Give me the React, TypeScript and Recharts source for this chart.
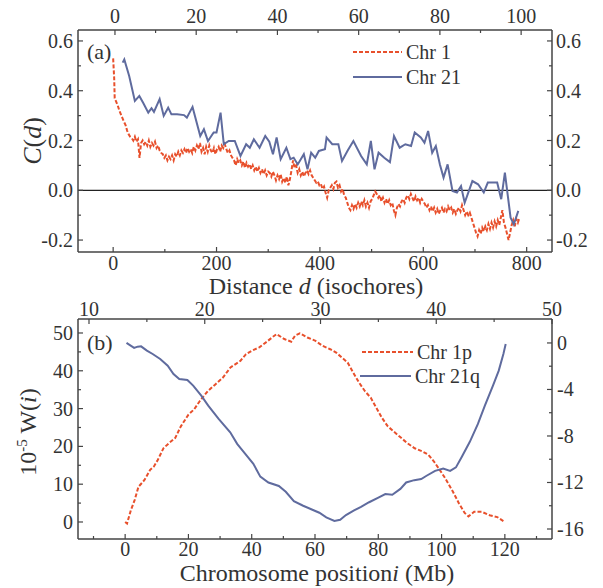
import React from 'react';
import { LineChart, Line, XAxis, YAxis, ReferenceLine } from 'recharts';

// ---------- Panel (a) data ----------
// Chr 1: [distance d (isochores), C(d)]
const chr1CorrPairs: [number, number][] = [
  [0, 0.53], [2, 0.45], [3, 0.37], [6, 0.355], [9, 0.34], [12, 0.32], [15, 0.305], [18, 0.29], [21, 0.275],
  [24, 0.262], [27, 0.24], [30, 0.225], [33, 0.215], [36, 0.21], [39, 0.2], [42, 0.215], [45, 0.195], [48, 0.205],
  [51, 0.13], [54, 0.19], [57, 0.2], [60, 0.185], [63, 0.195], [66, 0.18], [69, 0.2], [72, 0.175], [75, 0.19],
  [78, 0.18], [81, 0.195], [84, 0.17], [87, 0.18], [90, 0.16], [93, 0.15], [96, 0.145], [99, 0.13], [102, 0.14],
  [105, 0.12], [108, 0.135], [111, 0.125], [114, 0.14], [117, 0.12], [120, 0.145], [123, 0.135], [126, 0.155],
  [129, 0.14], [132, 0.16], [135, 0.15], [138, 0.165], [141, 0.15], [144, 0.17], [147, 0.155], [150, 0.165],
  [153, 0.15], [156, 0.175], [159, 0.16], [162, 0.18], [165, 0.165], [168, 0.19], [171, 0.155], [174, 0.17],
  [177, 0.145], [180, 0.175], [183, 0.155], [186, 0.18], [189, 0.16], [192, 0.15], [195, 0.17], [198, 0.145],
  [201, 0.165], [204, 0.175], [207, 0.155], [210, 0.18], [213, 0.17], [216, 0.185], [219, 0.165], [222, 0.15],
  [225, 0.16], [228, 0.14], [231, 0.13], [234, 0.12], [237, 0.1], [240, 0.125], [243, 0.11], [246, 0.12],
  [249, 0.1], [252, 0.115], [255, 0.09], [258, 0.11], [261, 0.095], [264, 0.105], [267, 0.085], [270, 0.1],
  [273, 0.08], [276, 0.095], [279, 0.075], [282, 0.09], [285, 0.07], [288, 0.085], [291, 0.065], [294, 0.08],
  [297, 0.06], [300, 0.075], [303, 0.07], [306, 0.055], [309, 0.075], [312, 0.06], [315, 0.04], [318, 0.06],
  [321, 0.045], [324, 0.065], [327, 0.035], [330, 0.05], [333, 0.03], [336, 0.055], [339, 0.02], [342, 0.045],
  [345, 0.08], [348, 0.12], [351, 0.09], [354, 0.1], [357, 0.07], [360, 0.085], [363, 0.06], [366, 0.075],
  [369, 0.055], [372, 0.07], [375, 0.08], [378, 0.065], [381, 0.08], [384, 0.06], [387, 0.05], [390, 0.04],
  [393, 0.03], [396, 0.035], [399, 0.02], [402, 0.025], [405, 0.005], [408, 0.015], [411, -0.01], [414, -0.03],
  [417, 0.0], [420, 0.01], [423, 0.02], [426, 0.005], [429, 0.03], [432, 0.035], [435, 0.01], [438, 0.02],
  [441, -0.005], [444, 0.005], [447, -0.02], [450, -0.03], [453, -0.05], [456, -0.07], [459, -0.08], [462, -0.06],
  [465, -0.075], [468, -0.055], [471, -0.07], [474, -0.05], [477, -0.065], [480, -0.045], [483, -0.06], [486, -0.04],
  [489, -0.065], [492, -0.05], [495, -0.07], [498, -0.045], [501, -0.035], [504, -0.02], [507, -0.005], [510, -0.015],
  [513, -0.03], [516, -0.02], [519, -0.045], [522, -0.03], [525, -0.05], [528, -0.035], [531, -0.055], [534, -0.04],
  [537, -0.06], [540, -0.05], [543, -0.08], [546, -0.1], [549, -0.07], [552, -0.055], [555, -0.065], [558, -0.045],
  [561, -0.035], [564, -0.05], [567, -0.03], [570, -0.02], [573, -0.035], [576, -0.015], [579, -0.03], [582, -0.045],
  [585, -0.025], [588, -0.04], [591, -0.03], [594, -0.05], [597, -0.035], [600, -0.045], [603, -0.055], [606, -0.07],
  [609, -0.06], [612, -0.08], [615, -0.065], [618, -0.085], [621, -0.07], [624, -0.09], [627, -0.075], [630, -0.095],
  [633, -0.08], [636, -0.07], [639, -0.09], [642, -0.075], [645, -0.085], [648, -0.065], [651, -0.08], [654, -0.07],
  [657, -0.09], [660, -0.075], [663, -0.095], [666, -0.08], [669, -0.07], [672, -0.085], [675, -0.06], [678, -0.08],
  [681, -0.1], [684, -0.085], [687, -0.1], [690, -0.09], [693, -0.11], [696, -0.13], [699, -0.15], [702, -0.17],
  [705, -0.185], [708, -0.16], [711, -0.175], [714, -0.15], [717, -0.165], [720, -0.145], [723, -0.16], [726, -0.135],
  [729, -0.155], [732, -0.13], [735, -0.15], [738, -0.125], [741, -0.145], [744, -0.12], [747, -0.14], [750, -0.11],
  [753, -0.08], [756, -0.13], [759, -0.15], [762, -0.175], [765, -0.2], [768, -0.17], [771, -0.14], [774, -0.12],
  [777, -0.145], [780, -0.115], [783, -0.13], [786, -0.11],
];

// Chr 21: [distance on top axis, C(d)]
const chr21CorrPairs: [number, number][] = [
  [1.9, 0.513], [2.3, 0.526], [3.5, 0.459], [4.9, 0.359], [6.0, 0.379], [7.0, 0.35], [8.2, 0.312], [9.0, 0.33],
  [9.6, 0.315], [11.0, 0.366], [12.0, 0.299], [13.1, 0.332], [13.9, 0.305], [15.3, 0.305], [17.0, 0.302],
  [17.7, 0.292], [19.1, 0.335], [21.0, 0.218], [21.9, 0.245], [22.9, 0.198], [24.3, 0.232], [25.0, 0.232],
  [26.0, 0.312], [26.8, 0.185], [28.0, 0.198], [29.5, 0.198], [30.9, 0.138], [32.3, 0.185], [33.2, 0.171],
  [34.2, 0.205], [35.6, 0.171], [37.0, 0.218], [38.0, 0.195], [38.9, 0.145], [39.8, 0.212], [40.8, 0.125],
  [42.2, 0.171], [43.2, 0.125], [44.0, 0.131], [45.0, 0.104], [46.5, 0.145], [47.4, 0.084], [48.3, 0.151],
  [49.3, 0.131], [50.2, 0.158], [51.7, 0.165], [52.1, 0.212], [53.5, 0.185], [55.0, 0.185], [55.9, 0.118],
  [57.3, 0.16], [58.7, 0.198], [60.6, 0.138], [62.0, 0.104], [63.0, 0.198], [63.9, 0.084], [64.9, 0.151],
  [66.3, 0.131], [67.7, 0.113], [68.7, 0.218], [70.1, 0.171], [71.5, 0.185], [72.9, 0.178], [73.8, 0.232],
  [75.3, 0.212], [76.2, 0.191], [77.1, 0.238], [78.1, 0.151], [79.0, 0.178], [80.0, 0.104], [80.9, 0.051],
  [81.9, 0.104], [83.1, -0.003], [84.2, -0.009], [85.2, 0.017], [86.1, -0.05], [88.0, 0.037], [89.4, 0.024],
  [90.8, -0.009], [91.8, 0.031], [94.1, 0.031], [95.1, -0.036], [96.0, 0.071], [97.4, -0.11], [98.2, -0.137],
  [99.3, -0.083],
];

// ---------- Panel (b) data ----------
// Chr 1p: [position (Mb), 10^-5 W]
const chr1pWalkPairs: [number, number][] = [
  [0, 0], [0.6, -0.4], [1.8, 3.1], [3, 5.8], [4.2, 9.3], [6.1, 11.1], [7.9, 13.8], [9.1, 14.7], [10.3, 16.4],
  [12.1, 19.5], [13.9, 20.9], [15.8, 22.2], [17.6, 25.3], [20, 28.4], [21.8, 29.8], [23.6, 32], [26.1, 34.6],
  [28.5, 36.4], [30.9, 38.2], [33.3, 40.9], [36.4, 42.6], [38.2, 44.4], [40, 45.3], [42.4, 46.2], [44.8, 47.7],
  [46.7, 49], [47.9, 49.7], [50.3, 48.4], [52.5, 47.7], [53.7, 49.3], [55.2, 49.9], [57.6, 48.8], [60, 48],
  [62.4, 46.6], [64.8, 45.7], [66.7, 44.8], [68.5, 43.5], [70.3, 42.2], [72.1, 39.5], [73.9, 36.9], [75.8, 34.6],
  [77.6, 32.9], [79.4, 30.2], [81.2, 27.5], [83, 25.3], [84.8, 24], [87.3, 22.2], [89.1, 20.9], [91.5, 19.5],
  [93.9, 18.7], [95.8, 17.8], [97.6, 16], [99.4, 13.8], [101.2, 11.5], [103.6, 8], [105.5, 4.9], [107.3, 2.4],
  [108.5, 1.5], [110.3, 2.7], [112.7, 2.7], [115.2, 1.8], [117.6, 1.3], [120, 0],
];

// Chr 21q: [position (Mb, top axis), 10^-5 W (right axis)]
const chr21qWalkPairs: [number, number][] = [
  [13.24, 0], [13.6, -0.23], [13.9, -0.43], [14.2, -0.32], [14.5, -0.29], [15, -0.66], [15.5, -0.95],
  [16.15, -1.38], [16.8, -1.95], [17.3, -2.67], [17.8, -3.1], [18.5, -3.18], [19, -3.67], [19.7, -4.53],
  [20.3, -5.39], [21.2, -6.53], [22.2, -7.68], [22.8, -8.68], [23.5, -9.54], [24.2, -10.4], [24.8, -11.5],
  [25.5, -12], [26.4, -12.3], [27, -12.8], [27.7, -13.6], [28.5, -14], [29.2, -14.3], [29.9, -14.6],
  [30.5, -15], [31.2, -15.3], [31.7, -15.2], [32.2, -14.8], [32.9, -14.4], [33.5, -14.1], [34.2, -13.7],
  [35, -13.3], [35.6, -13], [36.2, -13.05], [36.9, -12.55], [37.4, -12], [38.1, -11.8], [38.7, -11.7],
  [39.2, -11.4], [39.9, -11], [40.6, -10.8], [41.2, -11], [41.7, -10.7], [42.2, -9.8], [42.9, -8.5],
  [43.6, -6.96], [44.2, -5.39], [44.9, -3.67], [45.4, -2.38], [45.8, -0.95], [46, -0.09],
];

// ---------- Tick lists ----------
const aBottomTicks = [0, 100, 200, 300, 400, 500, 600, 700, 800];
const aTopTicks = [0, 10, 20, 30, 40, 50, 60, 70, 80, 90, 100];
const aYTicks = [-0.2, -0.1, 0, 0.1, 0.2, 0.3, 0.4, 0.5, 0.6];
const bBottomTicks = [-10, 0, 10, 20, 30, 40, 50, 60, 70, 80, 90, 100, 110, 120, 130];
const bTopTicks = [10, 15, 20, 25, 30, 35, 40, 45, 50];
const bLeftTicks = [0, 5, 10, 15, 20, 25, 30, 35, 40, 45, 50];
const bRightTicks = [-16, -14, -12, -10, -8, -6, -4, -2, 0];

const chr1Data = chr1CorrPairs.map(([d, c]) => ({ d, c }));
const chr21Data = chr21CorrPairs.map(([t, c]) => ({ t, c }));
const chr1pData = chr1pWalkPairs.map(([x, w]) => ({ x, w }));
const chr21qData = chr21qWalkPairs.map(([xt, w2]) => ({ xt, w2 }));

const FONT = 'Liberation Serif, Times New Roman, Times, serif';
const INK = '#333';
const FRAME = '#444';
const RED = '#e8502c';
const BLUE = '#5f6b9e';

type Side = 'bottom' | 'top' | 'left' | 'right';

function makeTick(side: Side, isMajor: (v: number) => boolean, fmt: (v: number) => string, gap: number) {
  return (props: any) => {
    const { x, y, payload } = props;
    const v = payload.value;
    const major = isMajor(v);
    const L = major ? 5 : 3;
    let line: [number, number, number, number];
    let tx = x, ty = y, anchor: 'middle' | 'end' | 'start' = 'middle';
    if (side === 'bottom') { line = [x, y, x, y - L]; ty = y + gap; }
    else if (side === 'top') { line = [x, y, x, y + L]; ty = y - gap; }
    else if (side === 'left') { line = [x, y, x + L, y]; tx = x - gap; ty = y + 7; anchor = 'end'; }
    else { line = [x, y, x - L, y]; tx = x + gap; ty = y + 7; anchor = 'start'; }
    return (
      <g>
        <line x1={line[0]} y1={line[1]} x2={line[2]} y2={line[3]} stroke={FRAME} strokeWidth={1.2} />
        {major ? (
          <text x={tx} y={ty} textAnchor={anchor} style={{ fontFamily: FONT }} fontSize={20} fill={INK}>{fmt(v)}</text>
        ) : null}
      </g>
    );
  };
}

const near = (v: number, step: number) => Math.abs(v / step - Math.round(v / step)) < 1e-6;
const fmtInt = (v: number) => String(v);
const fmt1 = (v: number) => v.toFixed(1);

const axisLineStyle = { stroke: FRAME, strokeWidth: 1.5 };

export default function App() {
  return (
    <div style={{ position: 'absolute', left: 0, top: 0, width: 603, height: 588, background: '#fff', overflow: 'hidden', fontFamily: FONT }}>
      <div style={{ position: 'absolute', left: 0, top: 0 }}>
        <LineChart width={603} height={296} margin={{ top: 0, right: 0, bottom: 0, left: 0 }}>
          <XAxis xAxisId="b" type="number" dataKey="d" orientation="bottom" domain={[-68, 849]} ticks={aBottomTicks}
            allowDataOverflow height={44} tickSize={0} tickMargin={0} interval={0} tickLine={false} axisLine={axisLineStyle}
            tick={makeTick('bottom', (v) => near(v, 200), fmtInt, 18)} />
          <XAxis xAxisId="t" type="number" dataKey="t" orientation="top" domain={[-9.1, 107.6]} ticks={aTopTicks}
            allowDataOverflow height={30} tickSize={0} tickMargin={0} interval={0} tickLine={false} axisLine={axisLineStyle}
            tick={makeTick('top', (v) => near(v, 20), fmtInt, 7)} />
          <YAxis yAxisId="l" type="number" orientation="left" domain={[-0.248, 0.644]} ticks={aYTicks}
            allowDataOverflow width={78} tickSize={0} tickMargin={0} interval={0} tickLine={false} axisLine={axisLineStyle}
            tick={makeTick('left', (v) => near(v, 0.2), fmt1, 5)} />
          <YAxis yAxisId="r" type="number" orientation="right" domain={[-0.248, 0.644]} ticks={aYTicks}
            allowDataOverflow width={51} tickSize={0} tickMargin={0} interval={0} tickLine={false} axisLine={axisLineStyle}
            tick={makeTick('right', (v) => near(v, 0.2), fmt1, 4)} />
          <ReferenceLine xAxisId="b" yAxisId="l" y={0} stroke="#222" strokeWidth={1.3} />
          <Line data={chr1Data} xAxisId="b" yAxisId="l" dataKey="c" stroke={RED} strokeWidth={2} strokeDasharray="4 2"
            dot={false} isAnimationActive={false} type="linear" />
          <Line data={chr21Data} xAxisId="t" yAxisId="l" dataKey="c" stroke={BLUE} strokeWidth={2}
            dot={false} isAnimationActive={false} type="linear" />
        </LineChart>
      </div>
      <div style={{ position: 'absolute', left: 0, top: 296 }}>
        <LineChart width={603} height={292} margin={{ top: 0, right: 0, bottom: 0, left: 0 }}>
          <XAxis xAxisId="b" type="number" dataKey="x" orientation="bottom" domain={[-14.9, 134.9]} ticks={bBottomTicks}
            allowDataOverflow height={49} tickSize={0} tickMargin={0} interval={0} tickLine={false} axisLine={axisLineStyle}
            tick={makeTick('bottom', (v) => near(v, 20) && v >= 0 && v <= 120, fmtInt, 17)} />
          <XAxis xAxisId="t" type="number" dataKey="xt" orientation="top" domain={[9.05, 50]} ticks={bTopTicks}
            allowDataOverflow height={23} tickSize={0} tickMargin={0} interval={0} tickLine={false} axisLine={axisLineStyle}
            tick={makeTick('top', (v) => near(v, 10), fmtInt, 3)} />
          <YAxis yAxisId="l" type="number" orientation="left" domain={[-4.5, 53.7]} ticks={bLeftTicks}
            allowDataOverflow width={78} tickSize={0} tickMargin={0} interval={0} tickLine={false} axisLine={axisLineStyle}
            tick={makeTick('left', (v) => near(v, 10), fmtInt, 5)} />
          <YAxis yAxisId="r" type="number" orientation="right" domain={[-16.86, 2.06]} ticks={bRightTicks}
            allowDataOverflow width={51} tickSize={0} tickMargin={0} interval={0} tickLine={false} axisLine={axisLineStyle}
            tick={makeTick('right', (v) => near(v, 4), fmtInt, 5)} />
          <Line data={chr1pData} xAxisId="b" yAxisId="l" dataKey="w" stroke={RED} strokeWidth={2} strokeDasharray="4 2"
            dot={false} isAnimationActive={false} type="linear" />
          <Line data={chr21qData} xAxisId="t" yAxisId="r" dataKey="w2" stroke={BLUE} strokeWidth={2}
            dot={false} isAnimationActive={false} type="linear" />
        </LineChart>
      </div>
      <svg width={603} height={588} style={{ position: 'absolute', left: 0, top: 0, pointerEvents: 'none', fontFamily: FONT }}>
        <g fill={INK}>
          {/* panel labels */}
          <text x={87} y={59} fontSize={22}>(a)</text>
          <text x={87} y={350} fontSize={22}>(b)</text>
          {/* legend (a) */}
          <line x1={353} y1={52} x2={402} y2={52} stroke={RED} strokeWidth={2} strokeDasharray="4 2" />
          <text x={406} y={59} fontSize={20}>Chr 1</text>
          <line x1={353} y1={77} x2={402} y2={77} stroke={BLUE} strokeWidth={2} />
          <text x={406} y={84} fontSize={20}>Chr 21</text>
          {/* legend (b) */}
          <line x1={362} y1={352} x2={413} y2={352} stroke={RED} strokeWidth={2} strokeDasharray="4 2" />
          <text x={417} y={359} fontSize={20}>Chr 1p</text>
          <line x1={360} y1={376} x2={411} y2={376} stroke={BLUE} strokeWidth={2} />
          <text x={415} y={383} fontSize={20}>Chr 21q</text>
          {/* axis titles */}
          <text x={316} y={294} fontSize={24} textAnchor="middle">
            Distance <tspan fontStyle="italic">d</tspan> (isochores)
          </text>
          <text x={317} y={581} fontSize={24} textAnchor="middle">
            Chromosome position<tspan fontStyle="italic">i</tspan> (Mb)
          </text>
          <text transform="translate(41,141) rotate(-90)" fontSize={26} textAnchor="middle">
            <tspan fontStyle="italic">C</tspan>(<tspan fontStyle="italic">d</tspan>)
          </text>
          <text transform="translate(36,432) rotate(-90)" fontSize={24} textAnchor="middle">
            10<tspan fontSize={15} dy={-9}>-5</tspan><tspan dy={9}> W(</tspan><tspan fontStyle="italic">i</tspan>)
          </text>
        </g>
      </svg>
    </div>
  );
}
